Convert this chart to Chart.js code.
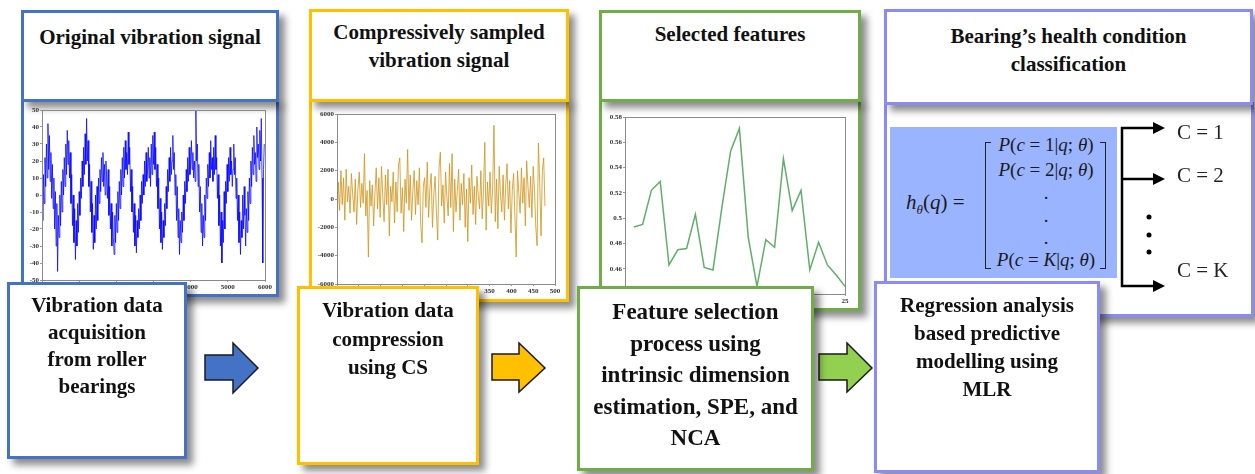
<!DOCTYPE html>
<html>
<head>
<meta charset="utf-8">
<script src="https://cdn.jsdelivr.net/npm/chart.js"></script>
<style>
body { margin: 0; background: #fff; }
#wrap { position: relative; width: 1255px; height: 474px; overflow: hidden; font-family: 'Liberation Serif', serif; color: #111; }
.box { position: absolute; box-sizing: border-box; background: #fff; border: 3px solid; box-shadow: 6px 6px 7px rgba(0,0,0,0.45); }
.t { font-weight: bold; text-align: center; }
.title { font-size: 21px; line-height: 28px; }
.big { font-size: 21px; line-height: 28px; padding-top: 7px; }
canvas { position: absolute; }
.blue { border-color: #4472C4; }
.yellow { border-color: #FFC000; }
.green { border-color: #70AD47; }
.purple { border-color: #8B8BF7; }
#formula { position: absolute; left: 890px; top: 127px; width: 227px; height: 151px; background: #9BB4FF; font-family: 'Liberation Serif', serif; color: #1a1a1a; z-index: 4; }
#formula .row { position: absolute; left: 98px; width: 116px; text-align: center; font-size: 19px; line-height: 22px; }
.br { position: absolute; top: 15px; height: 125px; width: 5px; border-top: 1.5px solid #222; border-bottom: 1.5px solid #222; }
.cl { position: absolute; left: 1177px; font-size: 21px; line-height: 24px; color: #222; z-index: 6; }
</style>
</head>
<body>
<div id="wrap">
  <div class="box blue t title" style="left:21px;top:10px;width:258px;height:92px;padding-top:10px;z-index:2">Original vibration signal</div>
  <div class="box blue" style="left:21px;top:99px;width:258px;height:198px;z-index:1"></div>
  <canvas id="sig" width="252" height="192" style="left:24px;top:102px;z-index:3"></canvas>

  <div class="box yellow t title" style="left:309px;top:9px;width:260px;height:93px;padding-top:6px;z-index:2">Compressively sampled<br>vibration signal</div>
  <div class="box yellow" style="left:309px;top:99px;width:260px;height:203px;z-index:1"></div>
  <canvas id="cs" width="254" height="197" style="left:312px;top:102px;z-index:3"></canvas>

  <div class="box green t title" style="left:599px;top:10px;width:262px;height:92px;padding-top:7px;z-index:2">Selected features</div>
  <div class="box green" style="left:599px;top:99px;width:262px;height:212px;z-index:1"></div>
  <canvas id="feat" width="256" height="206" style="left:602px;top:102px;z-index:3"></canvas>

  <div class="box purple t title" style="left:884px;top:9px;width:369px;height:96px;padding-top:10px;z-index:2">Bearing’s health condition<br>classification</div>
  <div class="box purple" style="left:884px;top:102px;width:370px;height:215px;z-index:1"></div>

  <div id="formula">
    <div style="position:absolute;left:16px;top:61px;font-size:21px;line-height:28px;"><i>h</i><sub style="font-size:13px"><i>θ</i></sub>(<i>q</i>) =</div>
    <div class="br" style="left:95px;border-left:1.5px solid #222;"></div>
    <div class="br" style="left:210px;border-right:1.5px solid #222;"></div>
    <div class="row" style="top:7px"><i>P</i>(<i>c</i> = 1|<i>q</i>; <i>θ</i>)</div>
    <div class="row" style="top:32px"><i>P</i>(<i>c</i> = 2|<i>q</i>; <i>θ</i>)</div>
    <div class="row" style="top:55px">.</div>
    <div class="row" style="top:78px">.</div>
    <div class="row" style="top:100px">.</div>
    <div class="row" style="top:122px"><i>P</i>(<i>c</i> = <i>K</i>|<i>q</i>; <i>θ</i>)</div>
  </div>
  <div class="cl" style="top:120px">C = 1</div>
  <div class="cl" style="top:163px">C = 2</div>
  <div class="cl" style="top:258px">C = K</div>

  <svg width="1255" height="474" style="position:absolute;left:0;top:0;z-index:5">
    <polygon points="205,355 233,355 233,343 258,368 233,393 233,380 205,380" fill="#4472C4" stroke="#1a1a2a" stroke-width="1.5"/>
    <polygon points="492,354 519,354 519,343 545,368 519,392 519,380 492,380" fill="#FFC000" stroke="#1a1a1a" stroke-width="1.5"/>
    <polygon points="819,354 847,354 847,343 872,368 847,392 847,380 819,380" fill="#92D050" stroke="#1a1a1a" stroke-width="1.5"/>
    <g stroke="#000" stroke-width="2.5" fill="none">
      <polyline points="1155,128 1122,128 1122,286 1155,286"/>
      <line x1="1122" y1="179" x2="1155" y2="179"/>
    </g>
    <g fill="#000">
      <polygon points="1153,122 1165,128 1153,134"/>
      <polygon points="1153,173 1165,179 1153,185"/>
      <polygon points="1153,280 1165,286 1153,292"/>
      <circle cx="1149" cy="217" r="2.5"/>
      <circle cx="1149" cy="235" r="2.5"/>
      <circle cx="1149" cy="252" r="2.5"/>
    </g>
  </svg>

  <div class="box blue t big" style="left:7px;top:282px;width:180px;height:177px;line-height:27px;z-index:7">Vibration data<br>acquisition<br>from roller<br>bearings</div>
  <div class="box yellow t big" style="left:297px;top:286px;width:182px;height:179px;line-height:28.5px;z-index:7">Vibration data<br>compression<br>using CS</div>
  <div class="box green t" style="left:577px;top:286px;width:237px;height:185px;font-size:23px;line-height:31.5px;padding-top:7px;z-index:7">Feature selection<br>process using<br>intrinsic dimension<br>estimation, SPE, and<br>NCA</div>
  <div class="box purple t big" style="left:874px;top:281px;width:226px;height:192px;z-index:7">Regression analysis<br>based predictive<br>modelling using<br>MLR</div>
</div>

<script>
// original vibration signal, one value every 20 samples (0 .. 5980)
const vibStep = 20;
const vibValues = [
  2, -15, 12, -5, 22, 5, 30, 10, 42, 15, 35, 8, 25, -2, 18,
  -8, 10, -20, 2, -30, -5, -45, -12, -25, 0, -18, 8, -10, 15, 0, 22, 5, 30, 12, 38,
  18, 32, 10, 25, -5, 12, -18, 0, -28, -8, -38, -15, -30,
  -5, -22, 2, -12, 10, -2, 20, 5, 28, 12, 36, 18, 45,
  20, 32, 5, 18, -10, 8, -22, -5, -32, -12, -28, 0, -20, 5,
  -15, 10, -5, 15, 2, 22, 8, 25, 5, 18, 0, 20, 10,
  -2, 15, -12, 5, -20, -5, -30, -10, -25, -35, -12, -28, -5, -22, 2, -15,
  8, -8, 15, 0, 22, 5, 28, 10, 32, 15, 25, 12, 37,
  18, 28, 2, 15, -10, 5, -22, -5, -30, -12, -34, -15, -25, -8, -20, 0, -15, 8, -5,
  12, 0, 20, 5, 25, 8, 15, 28, 10, 22, 5, 30, 12, 35, 18, 37,
  15, 28, 5, 18, -8, 10, -20, -2, -28, -10, -32, -15, -25,
  -5, -18, 5, -8, 15, 2, 22, 8, 28, 12, 20, 35,
  15, 25, 0, 12, -15, 5, -25, -8, -35, -15, -28, -10, -22, 0, -15, 8,
  -5, 15, 2, 22, 8, 28, 12, 18, 32, 15, 25, 10, 20, 8, 50,
  20, 30, 5, 18, -10, 5, -22, -5, -30, -12, -25, 0, -15,
  10, -2, 18, 5, 25, 10, 32, 15, 22, 8, 28, 12, 35,
  15, 22, -2, 12, -18, 0, -30, -10, -40, -15, -28, 2, -20,
  8, -5, 18, 2, 22, 8, 28, 12, 20, 5, 15, 30,
  12, 22, -2, 10, -15, 0, -28, -10, -35, -15, -25, 0, -20, 5, -12, -30, -8, -22, 2, -15, 10, -5, 20,
  5, 28, 12, 35, 18, 25, 8, 40, 22, 30, 15, 38, 20, 45, 10, -40, 15, 30
];

// compressively sampled signal, one value every 3 samples (0 .. 477)
const csStep = 3;
const csValues = [
  -2300, 1200, -800, 2000, -400, 1500, -1500, 2100, -200, 900,
  -1000, 1800, 300, -900, 1400, -1800, 700, 1900, -600, 1100,
  -300, 3200, -1200, 600, -4100, 1300, -500, 1000, -1900, 400,
  2200, -700, 1500, -1300, 2300, 200, -1600, 1700, -400, 2100,
  -2600, 900, -200, 1900, -1700, 1200, -900, 2400, 2900, -1000,
  800, -2300, 1400, -300, 3500, -800, 1700, -1500, 600, 2000,
  -1100, 1300, -400, 2200, -1800, -3100, 900, 1500, -600, 2600,
  -1300, 700, 1800, -2000, 300, 1600, -900, -2900, 2200, 3300,
  -500, 1000, -1700, 1900, 200, -1200, 2500, -600, 3200, -2300,
  1400, -900, 600, 2100, -1500, 1100, -400, 1800, -2000, 700,
  -3000, 1500, -300, 2400, -1100, 900, -1800, 1600, 200, -700,
  2000, -1400, 600, 4000, -2200, 1200, -500, 1900, -1000, 800,
  5200, -1600, 1400, -2100, 2300, 300, -900, 1700, -1500, 1000,
  2500, -700, 1300, -2400, 600, 1800, -1200, -4100, 2000, 400,
  -1000, 2200, -300, 1500, -1900, 2700, 900, -600, 1600, -1300,
  2300, 600, -2000, -3300, 3950, 1100, -2600, 2000, 2900, -500
];

// selected features 1..25
const featValues = [
  0.493, 0.495, 0.522, 0.529, 0.463, 0.475, 0.476, 0.503, 0.461, 0.459,
  0.508, 0.553, 0.571, 0.485, 0.446, 0.483, 0.477, 0.547, 0.506, 0.522,
  0.459, 0.481, 0.463, 0.455, 0.446
];

const tickFont = { family: 'Liberation Serif', size: 7, weight: 'bold' };

const frame = {
  id: 'frame',
  afterDraw(chart) {
    const a = chart.chartArea, c = chart.ctx;
    c.save();
    c.strokeStyle = '#8a8a8a';
    c.lineWidth = 1;
    c.strokeRect(a.left + 0.5, a.top + 0.5, a.right - a.left, a.bottom - a.top);
    c.restore();
  }
};

function makeChart(id, points, color, width, x, y, box) {
  new Chart(document.getElementById(id), {
    type: 'line',
    data: {
      datasets: [{
        data: points,
        borderColor: color,
        borderWidth: width,
        pointRadius: 0,
        tension: 0
      }]
    },
    options: {
      responsive: false,
      animation: false,
      devicePixelRatio: 1,
      layout: { padding: { top: box.top, right: box.right, left: 0, bottom: 0 } },
      plugins: { legend: { display: false }, tooltip: { enabled: false } },
      scales: {
        x: {
          type: 'linear', min: x.min, max: x.max,
          ticks: { stepSize: x.step, font: tickFont, color: '#333', padding: 1, maxRotation: 0,
                   callback: v => String(v) },
          grid: { drawOnChartArea: false, tickLength: 2, color: '#999' },
          border: { color: '#8a8a8a' },
          afterFit(s) { s.height = box.bottom; }
        },
        y: {
          min: y.min, max: y.max,
          ticks: { stepSize: y.step, font: tickFont, color: '#333', padding: 1,
                   callback: v => String(+v.toFixed(2)) },
          grid: { drawOnChartArea: false, tickLength: 2, color: '#999' },
          border: { color: '#8a8a8a' },
          afterFit(s) { s.width = box.left; }
        }
      }
    },
    plugins: [frame]
  });
}

makeChart('sig', vibValues.map((v, i) => ({ x: i * vibStep, y: v })),
  'rgba(0,0,255,0.75)', 1,
  { min: 0, max: 6000, step: 1000 }, { min: -50, max: 50, step: 10 },
  { left: 18, top: 8, right: 11, bottom: 14 });

makeChart('cs', csValues.map((v, i) => ({ x: i * csStep, y: v })),
  'rgba(207,148,25,0.8)', 1,
  { min: 0, max: 500, step: 50 }, { min: -6000, max: 6000, step: 2000 },
  { left: 25, top: 12, right: 11, bottom: 15 });

makeChart('feat', featValues.map((v, i) => ({ x: i + 1, y: v })),
  'rgba(80,165,90,0.9)', 1.5,
  { min: 0, max: 25, step: 5 }, { min: 0.44, max: 0.58, step: 0.02 },
  { left: 23, top: 15, right: 13, bottom: 14 });
</script>
</body>
</html>
